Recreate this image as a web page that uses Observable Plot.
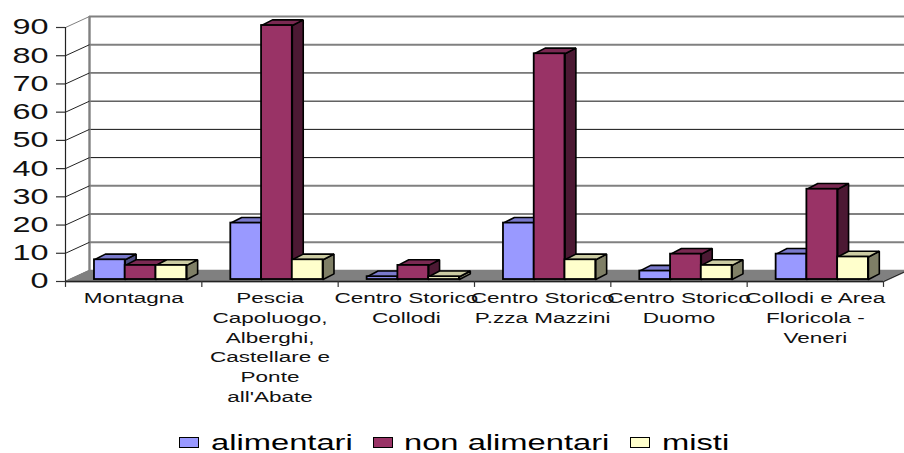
<!DOCTYPE html>
<html><head><meta charset="utf-8">
<style>
html,body{margin:0;padding:0;background:#fff;width:904px;height:453px;overflow:hidden}
#legend{position:relative;height:28px;font-family:"Liberation Sans",Arial,sans-serif;font-size:21.8px;color:#000}
#legend i{position:absolute;top:12px;width:18px;height:9px;border:1.5px solid #000;box-sizing:content-box}
#legend span{position:absolute;top:7.5px;line-height:20px;transform:scaleX(1.5);transform-origin:0 50%;white-space:nowrap}
</style>
<script src="https://cdn.jsdelivr.net/npm/d3@7"></script>
<script src="https://cdn.jsdelivr.net/npm/@observablehq/plot@0.6"></script>
</head><body>
<div id="chart"></div>
<div id="legend"></div>
<script>
const categories = ["Montagna","Pescia\nCapoluogo,\nAlberghi,\nCastellare e\nPonte\nall'Abate","Centro Storico\nCollodi","Centro Storico\nP.zza Mazzini","Centro Storico\nDuomo","Collodi e Area\nFloricola -\nVeneri"];
const alimentari = [7,20,1,20,3,9];
const nonAlimentari = [5,90,5,80,9,32];
const misti = [5,7,1,7,5,8];
const yTicks = [0,10,20,30,40,50,60,70,80,90];
const darkGrid = [40,50,60,70];
const seriesNames = ["alimentari","non alimentari","misti"];
const seriesValues = [alimentari,nonAlimentari,misti];
const frontColors = ["#9999FF","#993366","#FFFFCC"];
const topColors = ["#7A7ACC","#7A2952","#CCCCA3"];
const sideColors = ["#4C4C7F","#4C1933","#7F7F66"];
const legendX = [[179,211],[373,404],[630,662]];

// depth of the walls and of the bars, in scale units
const wallX = 0.176, wallY = 3.9, barDX = 0.08, barDY = 2, baseY = 0.7, start = 0.2125, barW = 0.2256;
const n = categories.length;

function barRows(s){
  return seriesValues[s].map((v,i)=>{
    const x1 = i + start + s*barW, x2 = x1 + barW;
    return {id:i, x1, x2, y1:baseY, y2:baseY+v};
  });
}
function poly(rows, f){
  return rows.flatMap(r => f(r).map(([x,y]) => ({id:r.id, x, y})));
}
const barMarks = seriesNames.flatMap((_,s)=>{
  const rows = barRows(s);
  const top = poly(rows, r=>[[r.x1,r.y2],[r.x2,r.y2],[r.x2+barDX,r.y2+barDY],[r.x1+barDX,r.y2+barDY],[r.x1,r.y2]]);
  const side = poly(rows, r=>[[r.x2,r.y1],[r.x2,r.y2],[r.x2+barDX,r.y2+barDY],[r.x2+barDX,r.y1+barDY],[r.x2,r.y1]]);
  const common = {x:"x", y:"y", z:"id", stroke:"#000", strokeWidth:1.6, strokeLinejoin:"miter"};
  return [
    Plot.line(side,{...common, fill:sideColors[s]}),
    Plot.line(top,{...common, fill:topColors[s]}),
    Plot.rect(rows,{x1:"x1",x2:"x2",y1:"y1",y2:"y2",fill:frontColors[s],stroke:"#000",strokeWidth:1.8})
  ];
});
const floor = [[0,0],[n,0],[n+wallX,wallY],[wallX,wallY],[0,0]].map(([x,y])=>({x,y}));
const isDark = d => darkGrid.includes(d);

const chart = Plot.plot({
  width:904, height:425,
  marginLeft:65, marginRight:21, marginTop:27, marginBottom:144,
  style:{background:"#fff", fontFamily:"'Liberation Sans',Arial,sans-serif", color:"#000"},
  x:{type:"linear", domain:[0,n], axis:null},
  y:{type:"linear", domain:[0,90], axis:null},
  marks:[
    Plot.ruleY(yTicks.slice(1).filter(d=>!isDark(d)),{y:d=>d+wallY, x1:wallX, x2:n+wallX+0.2, stroke:"#808080", strokeWidth:2}),
    Plot.ruleY(darkGrid,{y:d=>d+wallY, x1:wallX, x2:n+wallX+0.2, stroke:"#111", strokeWidth:1}),
    Plot.ruleX([wallX],{y1:wallY,y2:90+wallY,stroke:"#808080",strokeWidth:2.4}),
    Plot.link(yTicks,{x1:0,y1:d=>d,x2:wallX,y2:d=>d+wallY,stroke:d=>d===90?"#808080":"#222",strokeWidth:1}),
    Plot.line(floor,{x:"x",y:"y",fill:"#808080",stroke:"#808080"}),
    Plot.link([n],{x1:d=>d,y1:0,x2:d=>d+wallX,y2:wallY,stroke:"#222",strokeWidth:1}),
    ...barMarks,
    Plot.ruleX([0],{y1:0,y2:90,stroke:"#222",strokeWidth:1.2}),
    Plot.ruleY([0],{x1:0,x2:n,stroke:"#222",strokeWidth:1.4}),
    Plot.ruleY(yTicks,{y:d=>d,x1:-0.066,x2:0,stroke:"#333",strokeWidth:1.2}),
    Plot.ruleX(d3.range(n+1),{x:d=>d,y1:0,y2:-2.1,stroke:"#333",strokeWidth:1.2}),
    Plot.text(yTicks,{y:d=>d,x:0,dx:-17,text:d=>String(d),textAnchor:"end",fontSize:21.6,fill:"#111"}),
    Plot.text(categories,{x:(d,i)=>i+0.5,y:0,dy:8,lineAnchor:"top",text:d=>d,fontSize:15,lineHeight:1.31,fill:"#111",textAnchor:"middle"})
  ]
});
document.getElementById("chart").append(chart);
d3.select(chart).selectAll("text").attr("transform",function(){
  return (this.getAttribute("transform")||"")+" scale(1.5,1)";
});
const lg = d3.select("#legend");
seriesNames.forEach((name,i)=>{
  lg.append("i").style("left",legendX[i][0]+"px").style("background",frontColors[i]);
  lg.append("span").style("left",legendX[i][1]+"px").text(name);
});
</script>
</body></html>
